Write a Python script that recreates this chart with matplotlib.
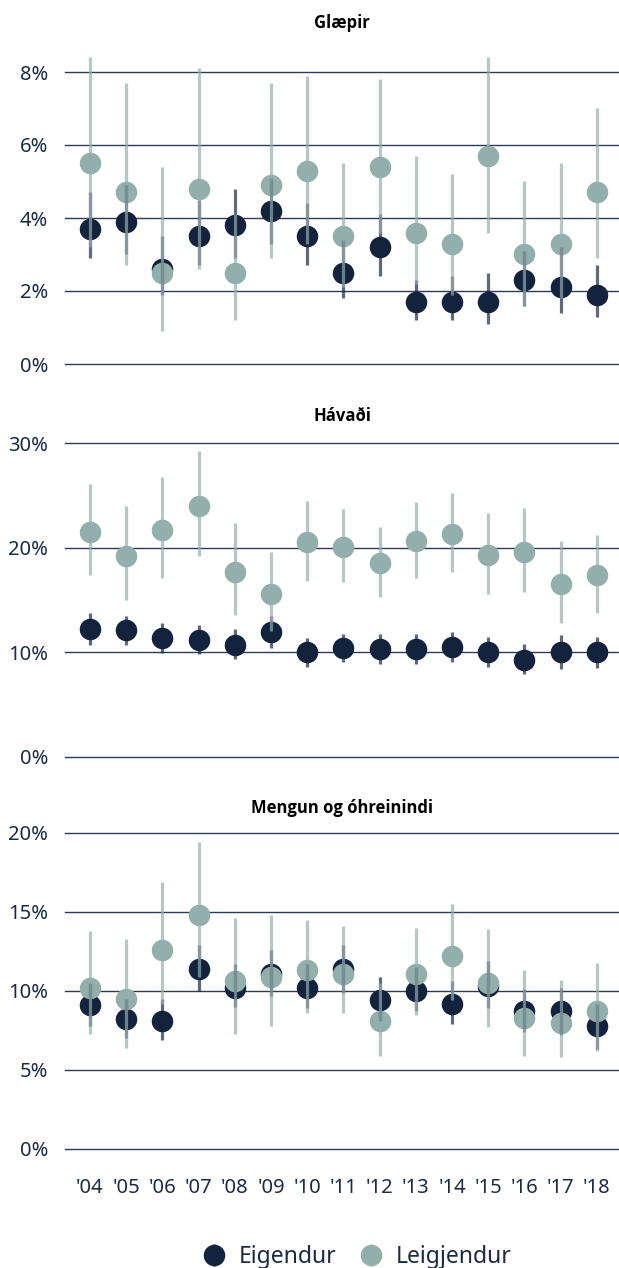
import numpy as np
import matplotlib
matplotlib.use("Agg")
import matplotlib.pyplot as plt

plt.rcParams['font.family'] = ['Noto Sans', 'DejaVu Sans']

# --- gögn ---
years = ["'04", "'05", "'06", "'07", "'08", "'09", "'10", "'11",
         "'12", "'13", "'14", "'15", "'16", "'17", "'18"]

glaepir_eig = [3.7, 3.9, 2.6, 3.5, 3.8, 4.2, 3.5, 2.5, 3.2, 1.7, 1.7, 1.7, 2.3, 2.1, 1.9]
glaepir_eig_lo = [2.9, 3.0, 1.9, 2.7, 2.9, 3.3, 2.7, 1.8, 2.4, 1.2, 1.2, 1.1, 1.6, 1.4, 1.3]
glaepir_eig_hi = [4.7, 4.9, 3.5, 4.5, 4.8, 5.1, 4.4, 3.4, 4.1, 2.3, 2.4, 2.5, 3.1, 3.2, 2.7]
glaepir_leig = [5.5, 4.7, 2.5, 4.8, 2.5, 4.9, 5.3, 3.5, 5.4, 3.6, 3.3, 5.7, 3.0, 3.3, 4.7]
glaepir_leig_lo = [3.2, 2.7, 0.9, 2.6, 1.2, 2.9, 3.3, 2.1, 3.6, 2.2, 1.9, 3.6, 1.6, 1.8, 2.9]
glaepir_leig_hi = [8.4, 7.7, 5.4, 8.1, 4.1, 7.7, 7.9, 5.5, 7.8, 5.7, 5.2, 8.4, 5.0, 5.5, 7.0]

havadi_eig = [12.2, 12.1, 11.4, 11.2, 10.7, 11.9, 10.0, 10.4, 10.3, 10.3, 10.5, 10.0, 9.3, 10.0, 10.0]
havadi_eig_lo = [10.7, 10.7, 9.9, 9.8, 9.4, 10.4, 8.6, 9.1, 8.9, 8.9, 9.1, 8.6, 7.9, 8.4, 8.5]
havadi_eig_hi = [13.8, 13.5, 12.8, 12.6, 12.2, 13.5, 11.4, 11.8, 11.8, 11.8, 11.9, 11.5, 10.8, 11.7, 11.5]
havadi_leig = [21.5, 19.2, 21.7, 24.0, 17.7, 15.6, 20.5, 20.1, 18.5, 20.6, 21.3, 19.3, 19.6, 16.5, 17.4]
havadi_leig_lo = [17.4, 15.0, 17.1, 19.2, 13.6, 12.0, 16.8, 16.7, 15.3, 17.1, 17.7, 15.6, 15.8, 12.8, 13.8]
havadi_leig_hi = [26.1, 24.0, 26.8, 29.2, 22.4, 19.6, 24.5, 23.7, 22.0, 24.4, 25.2, 23.3, 23.8, 20.6, 21.2]

mengun_eig = [9.1, 8.2, 8.1, 11.4, 10.2, 11.1, 10.2, 11.4, 9.4, 10.0, 9.2, 10.3, 8.7, 8.7, 7.8]
mengun_eig_lo = [7.8, 7.0, 6.9, 10.0, 9.0, 9.7, 8.9, 9.9, 8.1, 8.7, 7.9, 8.9, 7.4, 7.2, 6.3]
mengun_eig_hi = [10.5, 9.5, 9.5, 12.9, 11.7, 12.6, 11.7, 12.9, 10.9, 11.5, 10.6, 11.9, 10.1, 10.2, 9.2]
mengun_leig = [10.2, 9.5, 12.6, 14.8, 10.6, 10.9, 11.3, 11.1, 8.1, 11.1, 12.2, 10.5, 8.3, 8.0, 8.7]
mengun_leig_lo = [7.3, 6.4, 9.2, 10.9, 7.3, 7.8, 8.6, 8.6, 5.9, 8.5, 9.4, 7.7, 5.9, 5.8, 6.2]
mengun_leig_hi = [13.8, 13.3, 16.9, 19.4, 14.6, 14.8, 14.5, 14.1, 10.5, 14.0, 15.5, 13.9, 11.3, 10.7, 11.8]

titles = ["Glæpir", "Hávaði", "Mengun og óhreinindi"]
yticks = [[0, 2, 4, 6, 8], [0, 10, 20, 30], [0, 5, 10, 15, 20]]
ylims = [(0, 8.6), (0, 30.5), (0, 20.5)]

# --- útlit ---
NAVY = "#13223d"
TEAL = "#93afac"
TXT = "#1c2a44"
GRID = "#2b3a55"
W, H = 619, 1268

# staðsetning hvers grafs í pixlum: (efst, neðst)
boxes = [(50.1, 364), (437.8, 757), (825, 1149)]
title_y = [23, 416, 808]
LEFT, RIGHT = 65, 619

fig = plt.figure(figsize=(W / 100, H / 100), dpi=100)

panels = [
    (glaepir_eig, glaepir_eig_lo, glaepir_eig_hi, glaepir_leig, glaepir_leig_lo, glaepir_leig_hi),
    (havadi_eig, havadi_eig_lo, havadi_eig_hi, havadi_leig, havadi_leig_lo, havadi_leig_hi),
    (mengun_eig, mengun_eig_lo, mengun_eig_hi, mengun_leig, mengun_leig_lo, mengun_leig_hi),
]

x = np.arange(len(years))
handles = None
for i, (top, bot) in enumerate(boxes):
    ax = fig.add_axes([LEFT / W, 1 - bot / H, (RIGHT - LEFT) / W, (bot - top) / H])
    e, e_lo, e_hi, l, l_lo, l_hi = [np.array(a) for a in panels[i]]

    eb1 = ax.errorbar(x, e, yerr=[e - e_lo, e_hi - e], fmt='o', ms=15.5, mew=0,
                      color=NAVY, ecolor=(0.075, 0.133, 0.239, 0.68),
                      elinewidth=2.3, capsize=0, label="Eigendur")
    eb2 = ax.errorbar(x, l, yerr=[l - l_lo, l_hi - l], fmt='o', ms=15.5, mew=0,
                      color=TEAL, ecolor=(0.576, 0.686, 0.675, 0.68),
                      elinewidth=2.3, capsize=0, label="Leigjendur")
    # punktar undir, villustrik ofan á
    eb1[0].set_zorder(2)
    eb2[0].set_zorder(2.1)
    for lc in list(eb1[2]) + list(eb2[2]):
        lc.set_zorder(3)
        lc.set_clip_on(False)
    if handles is None:
        handles = [eb1, eb2]

    ax.set_xlim(-0.69, 14.61)
    ax.set_ylim(*ylims[i])
    ax.set_yticks(yticks[i])
    ax.set_yticklabels([f"{v}%" for v in yticks[i]])
    ax.yaxis.grid(True, color=GRID, lw=1)
    for gl in ax.get_ygridlines():
        gl.set_clip_on(False)
    ax.set_axisbelow(True)
    for s in ax.spines.values():
        s.set_visible(False)
    ax.tick_params(axis='y', length=0, pad=12, labelsize=14.5, labelcolor=TXT)
    ax.set_xticks(x)
    if i == 2:
        ax.set_xticklabels(years)
        ax.tick_params(axis='x', length=0, pad=21, labelsize=14.5, labelcolor=TXT)
    else:
        ax.tick_params(axis='x', length=0, labelbottom=False)

    fig.text((LEFT + RIGHT) / 2 / W, 1 - title_y[i] / H, titles[i],
             ha='center', va='center', fontsize=12, fontweight='bold',
             family=['Open Sans', 'DejaVu Sans'], color='black')

fig.legend(handles, ["Eigendur", "Leigjendur"], loc='center',
           bbox_to_anchor=(357 / W, 1 - 1257 / H), ncol=2, frameon=False,
           fontsize=16.5, labelcolor=TXT, handlelength=1.0,
           handletextpad=0.6, columnspacing=1.0)

fig.savefig("out.png", dpi=100)
